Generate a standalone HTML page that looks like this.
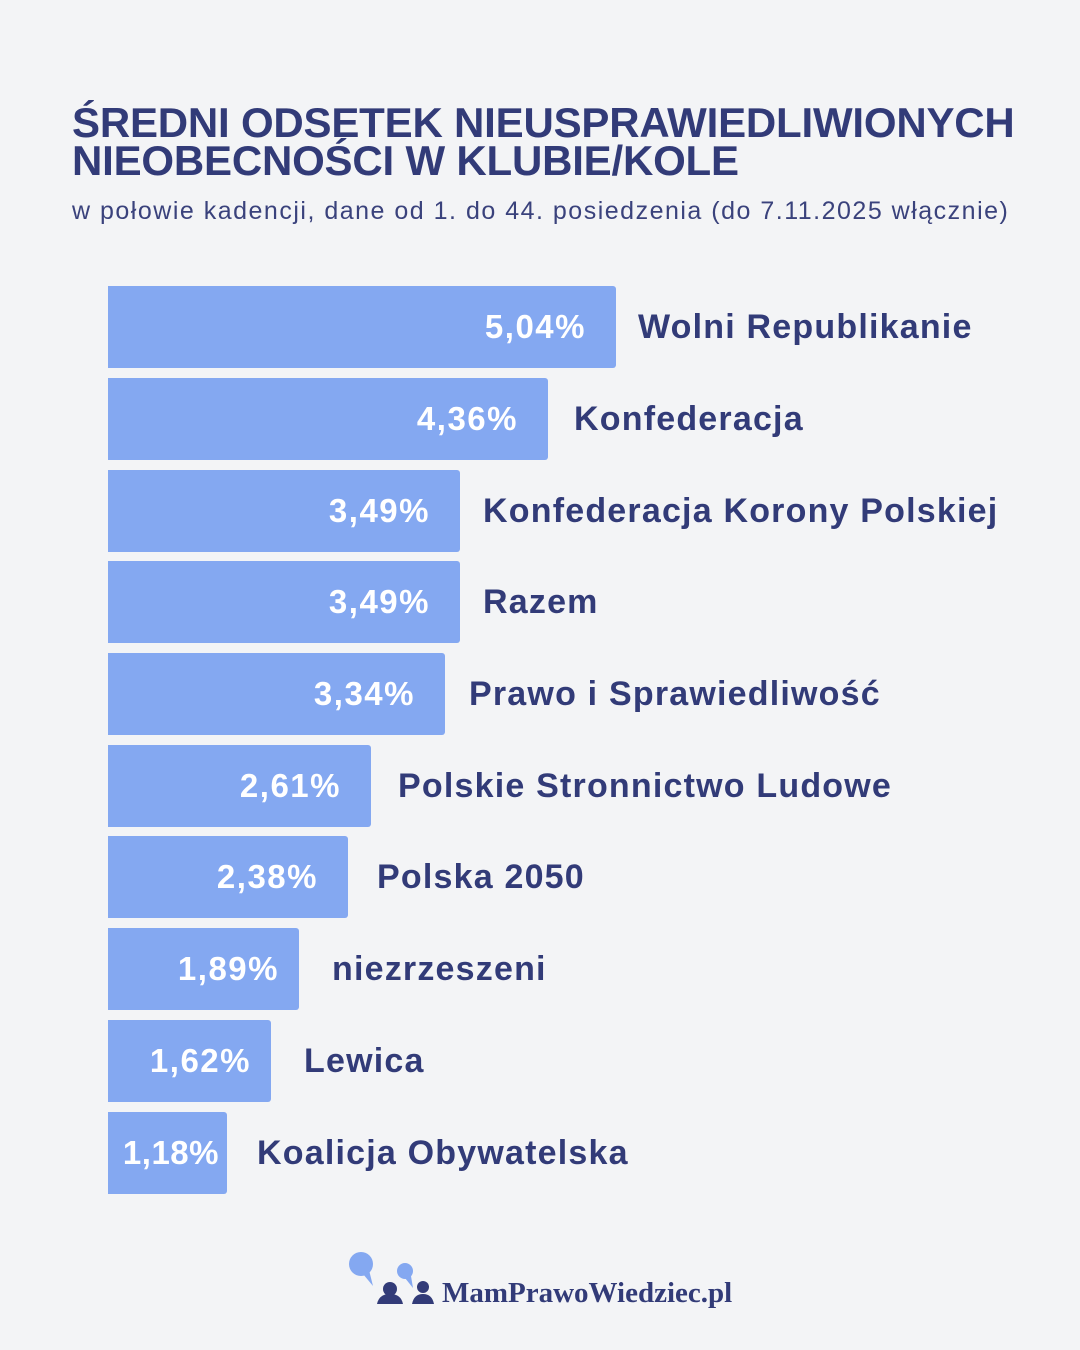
<!DOCTYPE html>
<html><head><meta charset="utf-8"><style>
body{margin:0;width:1080px;height:1350px;background:#f3f4f6;font-family:"Liberation Sans",sans-serif;position:relative;overflow:hidden;color:#323b78}
.t{position:absolute;left:72px;top:104px;font-weight:bold;font-size:42px;line-height:38px;letter-spacing:-0.2px}
.s{position:absolute;left:72px;top:197px;font-size:25px;letter-spacing:1.5px;color:#3a427c}
.bar{position:absolute;left:108px;height:82px;background:#84a8f1;border-radius:0 3px 3px 0}
.v{position:absolute;right:30px;top:0;line-height:82px;font-size:33px;font-weight:bold;color:#fff;letter-spacing:1.5px}
.l{position:absolute;line-height:82px;font-size:34px;font-weight:bold;white-space:nowrap;letter-spacing:1.2px}
</style></head><body>
<div class="t">ŚREDNI ODSETEK NIEUSPRAWIEDLIWIONYCH<br>NIEOBECNOŚCI W KLUBIE/KOLE</div>
<div class="s">w połowie kadencji, dane od 1. do 44. posiedzenia (do 7.11.2025 włącznie)</div>

<div class="bar" style="top:286px;width:508px"><span class="v">5,04%</span></div><div class="l" style="top:286px;left:638px">Wolni Republikanie</div>
<div class="bar" style="top:378px;width:440px"><span class="v">4,36%</span></div><div class="l" style="top:378px;left:574px">Konfederacja</div>
<div class="bar" style="top:470px;width:352px"><span class="v">3,49%</span></div><div class="l" style="top:470px;left:483px">Konfederacja Korony Polskiej</div>
<div class="bar" style="top:561px;width:352px"><span class="v">3,49%</span></div><div class="l" style="top:561px;left:483px">Razem</div>
<div class="bar" style="top:653px;width:337px"><span class="v">3,34%</span></div><div class="l" style="top:653px;left:469px">Prawo i Sprawiedliwość</div>
<div class="bar" style="top:745px;width:263px"><span class="v">2,61%</span></div><div class="l" style="top:745px;left:398px">Polskie Stronnictwo Ludowe</div>
<div class="bar" style="top:836px;width:240px"><span class="v">2,38%</span></div><div class="l" style="top:836px;left:377px">Polska 2050</div>
<div class="bar" style="top:928px;width:191px"><span class="v" style="right:20px">1,89%</span></div><div class="l" style="top:928px;left:332px">niezrzeszeni</div>
<div class="bar" style="top:1020px;width:163px"><span class="v" style="right:20px">1,62%</span></div><div class="l" style="top:1020px;left:304px">Lewica</div>
<div class="bar" style="top:1112px;width:119px"><span class="v" style="right:8px;letter-spacing:0.5px">1,18%</span></div><div class="l" style="top:1112px;left:257px">Koalicja Obywatelska</div>

<svg style="position:absolute;left:345px;top:1248px" width="100" height="60">
<circle cx="16" cy="16" r="12" fill="#84a8f1"/><polygon points="18,26 28,38 24,22" fill="#84a8f1"/>
<circle cx="60" cy="23" r="8" fill="#84a8f1"/><polygon points="60,30 68,40 66,28" fill="#84a8f1"/>
<circle cx="45" cy="41" r="7" fill="#323b78"/><path d="M32 56 q2-10 13-10 q11 0 13 10z" fill="#323b78"/>
<circle cx="78" cy="39" r="6" fill="#323b78"/><path d="M67 56 q2-10 11-10 q9 0 11 10z" fill="#323b78"/>
</svg>
<div style="position:absolute;left:442px;top:1277px;font-family:'Liberation Serif',serif;font-weight:bold;font-size:29px;color:#323b78">MamPrawoWiedziec.pl</div>
</body></html>
